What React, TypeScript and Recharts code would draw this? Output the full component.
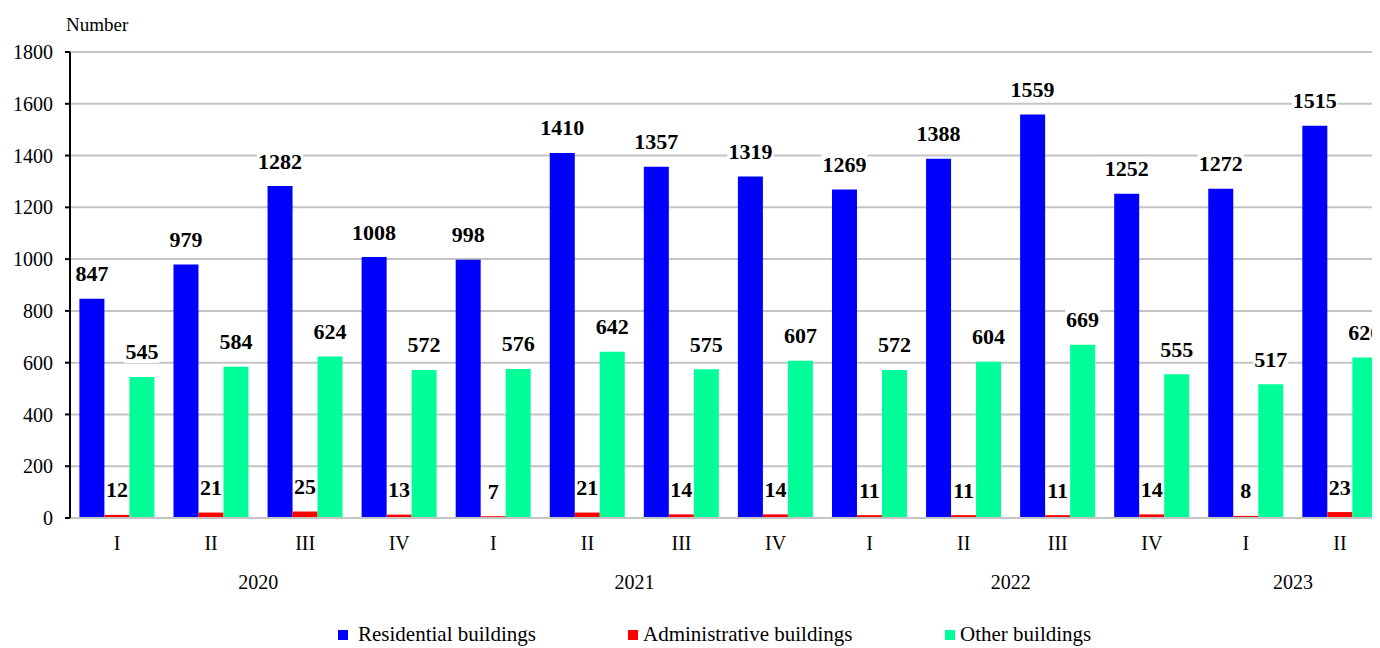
import React from 'react';
import { BarChart, Bar, XAxis, YAxis, CartesianGrid, Legend, LabelList, Label } from 'recharts';

const QUARTERS = ['I', 'II', 'III', 'IV', 'I', 'II', 'III', 'IV', 'I', 'II', 'III', 'IV', 'I', 'II'];
const YEARS = ['2020', '2020', '2020', '2020', '2021', '2021', '2021', '2021', '2022', '2022', '2022', '2022', '2023', '2023'];
const RESIDENTIAL = [847, 979, 1282, 1008, 998, 1410, 1357, 1319, 1269, 1388, 1559, 1252, 1272, 1515];
const ADMINISTRATIVE = [12, 21, 25, 13, 7, 21, 14, 14, 11, 11, 11, 14, 8, 23];
const OTHER = [545, 584, 624, 572, 576, 642, 575, 607, 572, 604, 669, 555, 517, 620];
const Y_TICKS = [0, 200, 400, 600, 800, 1000, 1200, 1400, 1600, 1800];

const SERIES = [
  { key: 'residential', name: 'Residential buildings', color: '#0000ff' },
  { key: 'administrative', name: 'Administrative buildings', color: '#ff0000' },
  { key: 'other', name: 'Other buildings', color: '#00ff99' },
];

const data = QUARTERS.map((q, i) => ({
  quarter: q,
  year: YEARS[i],
  residential: RESIDENTIAL[i],
  administrative: ADMINISTRATIVE[i],
  other: OTHER[i],
}));

const FONT = 'Liberation Serif, Tinos, Times New Roman, DejaVu Serif, serif';
const CHART_W = 1379;
const CHART_H = 640;
const MARGIN = { top: 44, right: 0, left: 0, bottom: 0 };
const Y_AXIS_W = 62;
const BAND = (CHART_W - Y_AXIS_W - MARGIN.right) / QUARTERS.length;

const ValueLabel = (props: any) => {
  const { x, y, width, value } = props;
  const cx = x + width / 2;
  const cy = y - 25;
  const w = String(value).length * 11 + 2;
  return (
    <g>
      <rect x={cx - w / 2} y={cy - 12} width={w} height={23} fill="#fff" />
      <text x={cx} y={cy} textAnchor="middle" dominantBaseline="central" style={{ fontFamily: FONT }} fontSize={22} fontWeight="bold" fill="#000">
        {value}
      </text>
    </g>
  );
};

const QuarterTick = (props: any) => {
  const { x, y, payload } = props;
  return (
    <text x={x} y={y + 25} textAnchor="middle" dominantBaseline="central" style={{ fontFamily: FONT }} fontSize={20} fill="#000">
      {payload.value}
    </text>
  );
};

const YearTick = (props: any) => {
  const { x, y, index } = props;
  const year = YEARS[index];
  if (index > 0 && YEARS[index - 1] === year) return null;
  const count = YEARS.filter((v) => v === year).length;
  return (
    <text x={x + ((count - 1) / 2) * BAND} y={y + 24} textAnchor="middle" dominantBaseline="central" style={{ fontFamily: FONT }} fontSize={20} fill="#000">
      {year}
    </text>
  );
};

const LEGEND_POS = [330, 620, 937];

const LegendContent = () => (
  <div style={{ position: 'relative', height: 24, fontFamily: FONT, fontSize: 21 }}>
    {SERIES.map((s, i) => (
      <div key={s.key} style={{ position: 'absolute', left: LEGEND_POS[i], top: -2, display: 'flex', alignItems: 'center', whiteSpace: 'nowrap' }}>
        <span style={{ display: 'inline-block', width: 10, height: 10, background: s.color, marginRight: i === 0 ? 10 : 5 }} />
        <span>{s.name}</span>
      </div>
    ))}
  </div>
);

export default function App() {
  return (
    <div style={{ width: 1372, height: 640, overflow: 'hidden', background: '#fff', fontFamily: FONT }}>
      <BarChart width={CHART_W} height={CHART_H} data={data} margin={MARGIN} barCategoryGap="10%" barGap={0} style={{ fontFamily: FONT }}>
        <CartesianGrid horizontal vertical={false} stroke="#c4c4c4" strokeWidth={2} />
        <XAxis
          xAxisId="q"
          dataKey="quarter"
          height={40}
          axisLine={{ stroke: '#c4c4c4', strokeWidth: 2 }}
          tickLine={false}
          tickSize={0}
          tickMargin={0}
          interval={0}
          tick={<QuarterTick />}
        />
        <XAxis
          xAxisId="y"
          dataKey="year"
          height={66}
          axisLine={false}
          tickLine={false}
          tickSize={0}
          tickMargin={0}
          interval={0}
          allowDuplicatedCategory
          tick={<YearTick />}
        />
        <YAxis
          width={Y_AXIS_W}
          domain={[0, 1800]}
          ticks={Y_TICKS}
          interval={0}
          axisLine={{ stroke: '#000', strokeWidth: 2 }}
          tickLine={{ stroke: '#000', strokeWidth: 2 }}
          tickSize={5}
          tickMargin={12}
          tick={{ fontSize: 20, fill: '#000', style: { fontFamily: FONT } }}
        >
          <Label
            content={(p: any) => (
              <text x={p.viewBox.x + p.viewBox.width - 4} y={p.viewBox.y - 28} textAnchor="start" dominantBaseline="central" style={{ fontFamily: FONT }} fontSize={19} fill="#000">
                Number
              </text>
            )}
          />
        </YAxis>
        <Legend verticalAlign="bottom" content={<LegendContent />} wrapperStyle={{ left: 0, width: CHART_W }} />
        {SERIES.map((s) => (
          <Bar key={s.key} xAxisId="q" dataKey={s.key} name={s.name} fill={s.color} isAnimationActive={false}>
            <LabelList dataKey={s.key} content={<ValueLabel />} />
          </Bar>
        ))}
      </BarChart>
    </div>
  );
}
